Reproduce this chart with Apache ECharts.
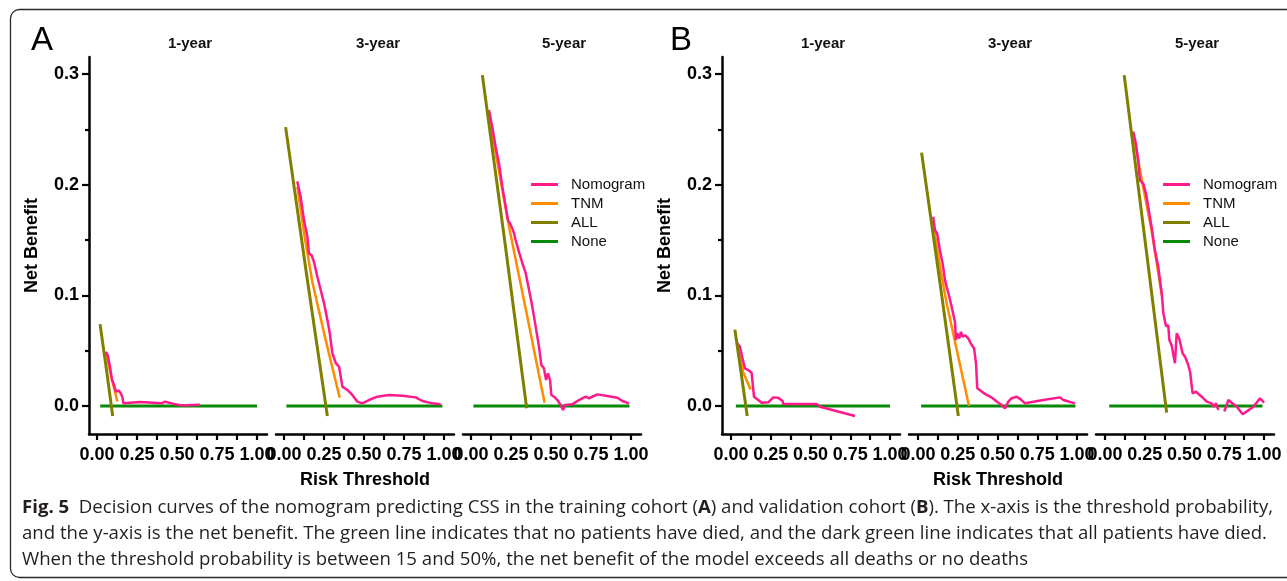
<!DOCTYPE html>
<html><head><meta charset="utf-8">
<script src="https://cdn.jsdelivr.net/npm/echarts@6/dist/echarts.min.js"></script>
<style>html,body{margin:0;padding:0;background:#fff}#c{width:1287px;height:581px}</style>
</head><body><div id="c"></div><script>
// ---------- data ----------
const cohorts = ['A', 'B'];
const panelTitles = ['1-year', '3-year', '5-year'];
const seriesNames = ['Nomogram', 'TNM', 'ALL', 'None'];
const xTickLabels = [0, 0.25, 0.5, 0.75, 1];
const xTicks = [0, 0.125, 0.25, 0.375, 0.5, 0.625, 0.75, 0.875, 1];
const yTickLabels = [0, 0.1, 0.2, 0.3];
const yMinorTicks = [0.05, 0.15, 0.25];

// A: training cohort
const A1_nomogram = [[0.056,0.049],[0.067,0.046],[0.081,0.0355],[0.094,0.0235],[0.106,0.019],[0.119,0.013],[0.135,0.014],[0.148,0.0115],[0.158,0.0085],[0.165,0.0025],[0.175,0.003],[0.269,0.0036],[0.279,0.0024],[0.404,0.0024],[0.425,0.0039],[0.467,0.0024],[0.519,0.0006],[0.56,0.0006],[0.644,0.0012]];
const A1_tnm = [[0.056,0.048],[0.09,0.026],[0.127,0.004]];
const A1_all = [[0.019,0.074],[0.06,0.032],[0.098,-0.009]];
const A1_none = [[0.02,0],[1.0,0]];

const A3_nomogram = [[0.083,0.203],[0.104,0.189],[0.125,0.168],[0.146,0.153],[0.156,0.138],[0.173,0.136],[0.188,0.130],[0.208,0.117],[0.229,0.105],[0.25,0.093],[0.271,0.078],[0.286,0.066],[0.302,0.048],[0.323,0.039],[0.344,0.0355],[0.365,0.0175],[0.396,0.0145],[0.427,0.010],[0.458,0.004],[0.49,0.0024],[0.531,0.0054],[0.583,0.0084],[0.656,0.0099],[0.74,0.0093],[0.823,0.0078],[0.865,0.0045],[0.927,0.0024],[0.979,0.0015]];
const A3_tnm = [[0.083,0.198],[0.13,0.152],[0.177,0.112],[0.26,0.06],[0.348,0.0075]];
const A3_all = [[0.01,0.252],[0.14,0.12],[0.271,-0.009]];
const A3_none = [[0.015,0],[0.99,0]];

const A5_nomogram = [[0.1125,0.2675],[0.133,0.252],[0.154,0.234],[0.175,0.219],[0.196,0.198],[0.217,0.180],[0.231,0.168],[0.244,0.165],[0.258,0.1605],[0.269,0.156],[0.279,0.150],[0.3,0.139],[0.321,0.129],[0.342,0.120],[0.3625,0.105],[0.383,0.090],[0.404,0.072],[0.425,0.0536],[0.44,0.037],[0.456,0.034],[0.469,0.0235],[0.481,0.0295],[0.494,0.0235],[0.502,0.010],[0.519,0.0084],[0.54,0.0054],[0.56,0.0009],[0.575,-0.0036],[0.5875,0.0009],[0.633,0.0015],[0.675,0.0054],[0.717,0.0084],[0.7375,0.007],[0.79,0.0105],[0.852,0.009],[0.915,0.0075],[0.946,0.0045],[0.9875,0.0024]];
const A5_tnm = [[0.1125,0.262],[0.2,0.192],[0.2375,0.162],[0.35,0.082],[0.46,0.003]];
const A5_all = [[0.071,0.299],[0.21,0.15],[0.348,-0.002]];
const A5_none = [[0.015,0],[0.99,0]];

// B: validation cohort
const B1_nomogram = [[0.04,0.0566],[0.057,0.0536],[0.073,0.043],[0.088,0.034],[0.099,0.0355],[0.109,0.0325],[0.13,0.030],[0.145,0.0084],[0.172,0.0054],[0.193,0.003],[0.235,0.0033],[0.266,0.0078],[0.297,0.0075],[0.325,0.0045],[0.329,0.0018],[0.371,0.0018],[0.539,0.0018],[0.56,-0.0006],[0.78,-0.009]];
const B1_tnm = [[0.04,0.056],[0.078,0.03],[0.124,0.015]];
const B1_all = [[0.025,0.069],[0.064,0.03],[0.1025,-0.009]];
const B1_none = [[0.031,0],[1.0,0]];

const B3_nomogram = [[0.096,0.171],[0.107,0.159],[0.121,0.156],[0.138,0.141],[0.155,0.129],[0.17,0.114],[0.18,0.108],[0.197,0.099],[0.212,0.0897],[0.233,0.076],[0.239,0.0596],[0.247,0.0657],[0.26,0.061],[0.27,0.067],[0.281,0.0626],[0.296,0.064],[0.317,0.061],[0.332,0.0566],[0.353,0.052],[0.365,0.0386],[0.373,0.016],[0.401,0.013],[0.432,0.010],[0.453,0.0084],[0.47,0.007],[0.495,0.004],[0.526,0.0009],[0.547,-0.0021],[0.568,0.004],[0.589,0.007],[0.621,0.0084],[0.646,0.006],[0.673,0.0024],[0.684,0.0039],[0.788,0.0054],[0.893,0.0078],[0.914,0.0054],[0.987,0.0024]];
const B3_tnm = [[0.096,0.165],[0.14,0.125],[0.18,0.093],[0.321,0.0]];
const B3_all = [[0.023,0.229],[0.14,0.11],[0.254,-0.009]];
const B3_none = [[0.02,0],[0.99,0]];

const B5_nomogram = [[0.178,0.248],[0.195,0.237],[0.209,0.222],[0.22,0.204],[0.241,0.201],[0.258,0.192],[0.272,0.180],[0.293,0.162],[0.314,0.141],[0.335,0.126],[0.357,0.102],[0.367,0.084],[0.384,0.072],[0.398,0.073],[0.405,0.0596],[0.419,0.055],[0.44,0.0386],[0.451,0.0657],[0.467,0.061],[0.488,0.0476],[0.503,0.0446],[0.524,0.037],[0.535,0.031],[0.541,0.0325],[0.551,0.0115],[0.572,0.013],[0.608,0.0084],[0.64,0.004],[0.671,0.0024],[0.681,-0.0006],[0.698,0.0024],[0.713,-0.0036],[0.73,null],[0.75,-0.005],[0.776,0.0054],[0.828,-0.0006],[0.866,-0.0075],[0.933,-0.0006],[0.975,0.007],[1.0,0.003]];
const B5_tnm = [[0.178,0.246],[0.24,0.198],[0.293,0.159],[0.357,0.1]];
const B5_all = [[0.121,0.299],[0.25,0.152],[0.388,-0.006]];
const B5_none = [[0.027,0],[0.99,0]];

const captionLines = [
  '{b|Fig. 5}  Decision curves of the nomogram predicting CSS in the training cohort ({b|A}) and validation cohort ({b|B}). The x-axis is the threshold probability,',
  'and the y-axis is the net benefit. The green line indicates that no patients have died, and the dark green line indicates that all patients have died.',
  'When the threshold probability is between 15 and 50%, the net benefit of the model exceeds all deaths or no deaths'
];

// ---------- layout / style ----------
const panels = [
  {nomo:A1_nomogram, tnm:A1_tnm, all:A1_all, none:A1_none},
  {nomo:A3_nomogram, tnm:A3_tnm, all:A3_all, none:A3_none},
  {nomo:A5_nomogram, tnm:A5_tnm, all:A5_all, none:A5_none},
  {nomo:B1_nomogram, tnm:B1_tnm, all:B1_all, none:B1_none},
  {nomo:B3_nomogram, tnm:B3_tnm, all:B3_all, none:B3_none},
  {nomo:B5_nomogram, tnm:B5_tnm, all:B5_all, none:B5_none}
];
const colors = {Nomogram:'#FF1A8C', TNM:'#FF8C00', ALL:'#808000', None:'#078A07'};
const widths = {Nomogram:2.5, TNM:2.5, ALL:3, None:3};
const gridLefts = [89, 276, 463, 722, 909, 1096];
const xMins = [-0.05, -0.05, -0.05, -0.056, -0.056, -0.056];
const X_MAX = 1.0625;
const GRID_TOP = 57, GRID_H = 377, GRID_W = 178;
const Y_MIN = -0.0253, Y_MAX = 0.3154;
const FONT = 'Liberation Sans';

const grids = [], xAxes = [], yAxes = [], series = [];
gridLefts.forEach((left, i) => {
  grids.push({left, top: GRID_TOP, width: GRID_W, height: GRID_H, containLabel: false});
  const mid = (i % 3 === 1);
  xAxes.push({
    type: 'value', gridIndex: i, min: xMins[i], max: X_MAX,
    axisLine: {show: true, onZero: false, lineStyle: {color: '#000', width: 2.5}},
    axisTick: {show: true, length: 6, customValues: xTicks, lineStyle: {color: '#000', width: 2.2}},
    axisLabel: {customValues: xTickLabels, formatter: v => v.toFixed(2), fontFamily: FONT, fontSize: 18, fontWeight: 'bold', color: '#000', margin: 12},
    splitLine: {show: false},
    name: mid ? 'Risk Threshold' : '', nameLocation: 'middle', nameGap: 37,
    nameTextStyle: {fontFamily: FONT, fontSize: 18, fontWeight: 'bold', color: '#000'}
  });
  const first = (i % 3 === 0);
  yAxes.push({
    type: 'value', gridIndex: i, min: Y_MIN, max: Y_MAX, show: first,
    axisLine: {show: true, onZero: false, lineStyle: {color: '#000', width: 2.5}},
    axisTick: {show: true, length: 7, customValues: yTickLabels, lineStyle: {color: '#000', width: 2.2}},
    axisLabel: {customValues: yTickLabels, formatter: v => v.toFixed(1), fontFamily: FONT, fontSize: 18, fontWeight: 'bold', color: '#000', margin: 10},
    splitLine: {show: false},
    name: first ? 'Net Benefit' : '', nameLocation: 'middle', nameGap: 48,
    nameTextStyle: {fontFamily: FONT, fontSize: 18, fontWeight: 'bold', color: '#000'}
  });
  const p = panels[i];
  const dataMap = {None: p.none, TNM: p.tnm, Nomogram: p.nomo, ALL: p.all};
  ['None', 'TNM', 'Nomogram', 'ALL'].forEach(name => {
    series.push({
      type: 'line', name, xAxisIndex: i, yAxisIndex: i, data: dataMap[name],
      symbol: 'none', showSymbol: false, connectNulls: false, silent: true, animation: false,
      lineStyle: {color: colors[name], width: widths[name]}, itemStyle: {color: colors[name]}
    });
  });
});
// extra grids for shorter minor y ticks
[0, 3].forEach(i => {
  const gi = grids.length;
  grids.push({left: gridLefts[i], top: GRID_TOP, width: GRID_W, height: GRID_H, containLabel: false});
  xAxes.push({type: 'value', gridIndex: gi, min: 0, max: 1, show: false});
  yAxes.push({type: 'value', gridIndex: gi, min: Y_MIN, max: Y_MAX,
    axisLine: {show: false, onZero: false},
    axisTick: {show: true, length: 4, customValues: yMinorTicks, lineStyle: {color: '#000', width: 2.2}},
    axisLabel: {show: false}, splitLine: {show: false}});
});

const legends = [531, 1163].map(left => ({
  left, top: 177, padding: 0, orient: 'vertical', icon: 'rect', itemWidth: 27, itemHeight: 3, itemGap: 4,
  data: seriesNames, selectedMode: false,
  textStyle: {fontFamily: FONT, fontSize: 15, color: '#111', lineHeight: 14, height: 14, padding: [0, 0, 0, 8]}
}));

// caption font fitting
const CAP_FONT = 'Open Sans';
const plain1 = captionLines[0].replace(/\{b\|([^}]*)\}/g, '$1');
const cv = document.createElement('canvas').getContext('2d');
cv.font = '16px "' + CAP_FONT + '"';
let capSize = 16 * 1248 / cv.measureText(plain1).width;
capSize = Math.max(14, Math.min(19, capSize));

const titleX = [190, 378, 564, 823, 1010, 1197];
const graphics = [
  {type: 'rect', silent: true, shape: {x: 10.5, y: 9.5, width: 1320, height: 568, r: 9},
   style: {fill: 'none', stroke: '#2a2a2a', lineWidth: 1.3}},
  {type: 'text', silent: true, x: 42, y: 41, style: {text: 'A', font: '33px "Liberation Sans"', fill: '#000', align: 'center', verticalAlign: 'middle'}},
  {type: 'text', silent: true, x: 681, y: 41, style: {text: 'B', font: '33px "Liberation Sans"', fill: '#000', align: 'center', verticalAlign: 'middle'}}
];
titleX.forEach((x, i) => graphics.push({type: 'text', silent: true, x, y: 44,
  style: {text: panelTitles[i % 3], font: 'bold 15px "Liberation Sans"', fill: '#111', align: 'center', verticalAlign: 'middle'}}));
[508, 534, 560].forEach((y, i) => graphics.push({type: 'text', silent: true, x: 22, y,
  style: {text: captionLines[i], font: capSize.toFixed(2) + 'px "' + CAP_FONT + '"', fill: '#231f20', align: 'left', verticalAlign: 'middle',
    rich: {b: {font: 'bold ' + capSize.toFixed(2) + 'px "' + CAP_FONT + '"', fill: '#231f20'}}}}));

const chart = echarts.init(document.getElementById('c'), null, {renderer: 'canvas'});
chart.setOption({
  animation: false,
  backgroundColor: '#fff',
  grid: grids, xAxis: xAxes, yAxis: yAxes, series, legend: legends,
  graphic: graphics
});
</script></body></html>
